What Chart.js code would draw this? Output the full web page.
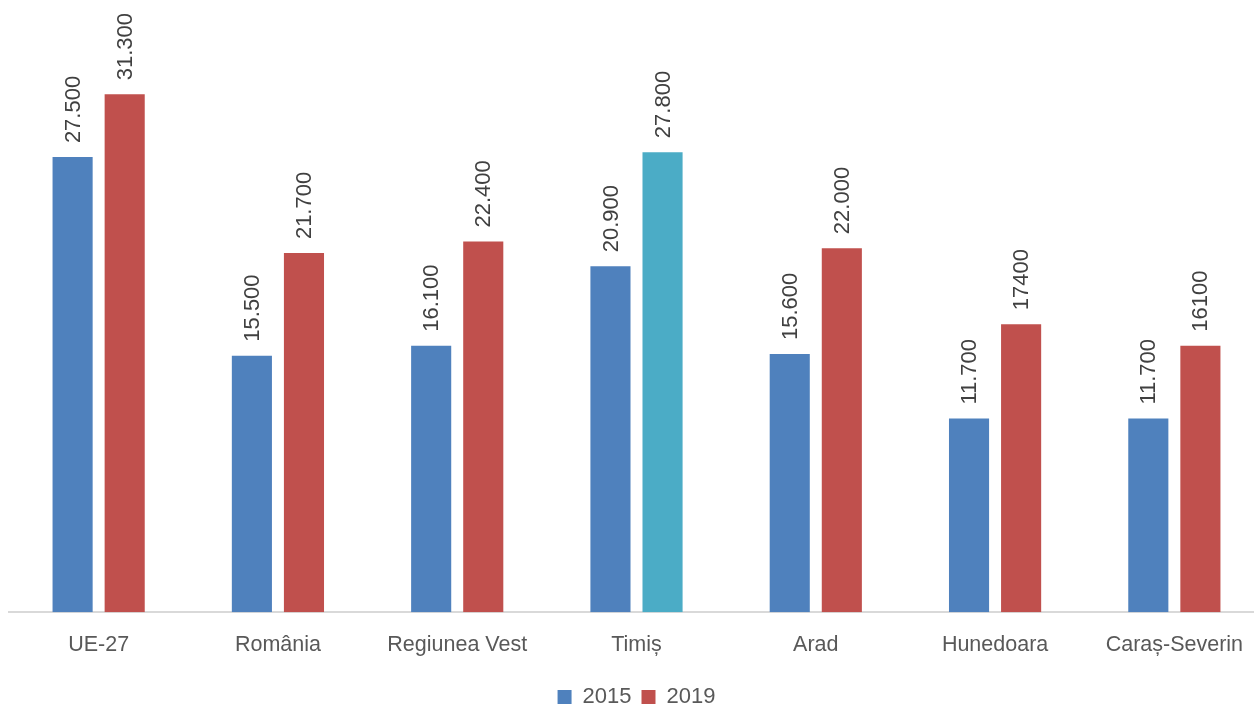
<!DOCTYPE html>
<html>
<head>
<meta charset="utf-8">
<script src="https://cdn.jsdelivr.net/npm/chart.js@4/dist/chart.umd.min.js"></script>
<style>
  html, body { margin: 0; padding: 0; background: #fff; overflow: hidden; }
  #chart { display: block; }
</style>
</head>
<body>
<canvas id="chart" width="1264" height="718"></canvas>
<script>
var categories = ["UE-27", "România", "Regiunea Vest", "Timiș", "Arad", "Hunedoara", "Caraș-Severin"];
var values2015 = [27500, 15500, 16100, 20900, 15600, 11700, 11700];
var values2019 = [31300, 21700, 22400, 27800, 22000, 17400, 16100];
var labels2015 = ["27.500", "15.500", "16.100", "20.900", "15.600", "11.700", "11.700"];
var labels2019 = ["31.300", "21.700", "22.400", "27.800", "22.000", "17400", "16100"];

var BLUE = "#4F81BD", RED = "#C0504D", TEAL = "#4BACC6";
var TEXT = "#595959";
var FONT = "'Liberation Sans', Arial, sans-serif";

// Timiș 2019 is highlighted in the source
var colors2019 = categories.map(function (c) { return c === "Timiș" ? TEAL : RED; });

// Vertical value labels above each bar
var barLabels = {
    id: "barLabels",
    afterDatasetsDraw: function (chart) {
        var ctx = chart.ctx;
        var texts = [labels2015, labels2019];
        ctx.save();
        ctx.font = "22px " + FONT;
        ctx.fillStyle = "#404040";
        ctx.textAlign = "left";
        ctx.textBaseline = "middle";
        chart.data.datasets.forEach(function (ds, i) {
            chart.getDatasetMeta(i).data.forEach(function (bar, j) {
                ctx.save();
                ctx.translate(bar.x + 1, bar.y - 14);
                ctx.rotate(-Math.PI / 2);
                ctx.fillText(texts[i][j], 0, 0);
                ctx.restore();
            });
        });
        ctx.restore();
    }
};

new Chart(document.getElementById("chart"), {
    type: "bar",
    data: {
        labels: categories,
        datasets: [
            { label: "2015", data: values2015, backgroundColor: BLUE },
            { label: "2019", data: values2019, backgroundColor: colors2019 }
        ]
    },
    options: {
        responsive: false,
        animation: false,
        devicePixelRatio: 1,
        categoryPercentage: 0.581,
        barPercentage: 0.77,
        layout: { padding: { top: 33, left: 9, right: 0, bottom: 0 } },
        plugins: {
            tooltip: { enabled: false },
            legend: {
                position: "bottom",
                labels: {
                    generateLabels: function (chart) {
                        return [
                            { text: "2015", fillStyle: BLUE, strokeStyle: BLUE, fontColor: TEXT, lineWidth: 0, datasetIndex: 0 },
                            { text: "2019", fillStyle: RED, strokeStyle: RED, fontColor: TEXT, lineWidth: 0, datasetIndex: 1 }
                        ];
                    },
                    boxWidth: 14,
                    boxHeight: 14,
                    padding: 10,
                    color: TEXT,
                    font: { family: FONT, size: 22 }
                }
            }
        },
        scales: {
            x: {
                grid: { display: false, drawTicks: false },
                border: { display: true, color: "#D9D9D9", width: 2 },
                ticks: { color: TEXT, padding: 20, font: { family: FONT, size: 21.5 } },
                afterFit: function (scale) { scale.height -= 2; }
            },
            y: {
                display: false,
                min: 0,
                max: 35000
            }
        }
    },
    plugins: [barLabels]
});
</script>
</body>
</html>
